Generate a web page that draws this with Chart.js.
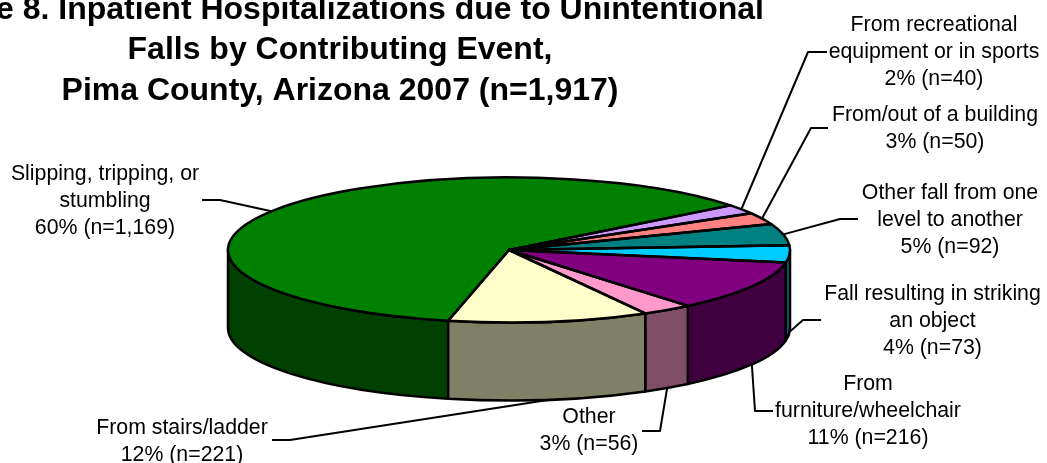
<!DOCTYPE html>
<html>
<head>
<meta charset="utf-8">
<title>Inpatient Hospitalizations due to Unintentional Falls</title>
<script src="https://cdn.jsdelivr.net/npm/chart.js@4"></script>
<style>
    html, body { margin: 0; padding: 0; background: #fff; overflow: hidden; }
    canvas { display: block; }
</style>
</head>
<body>
<canvas id="fallsPie" width="1047" height="463"></canvas>
<script>
// data
const categories = [
    ['Slipping, tripping, or', 'stumbling'],
    ['From recreational', 'equipment or in sports'],
    ['From/out of a building'],
    ['Other fall from one', 'level to another'],
    ['Fall resulting in striking', 'an object'],
    ['From', 'furniture/wheelchair'],
    ['Other'],
    ['From stairs/ladder']
];
const counts = [1169, 40, 50, 92, 73, 216, 56, 221];
const percents = [60, 2, 3, 5, 4, 11, 3, 12];
const sliceColors = ['#008000', '#CC99FF', '#FF8080', '#008080', '#00CCFF', '#800080', '#FF99CC', '#FFFFCC'];
const titleLines = [
    'Figure 8. Inpatient Hospitalizations due to Unintentional',
    'Falls by Contributing Event,',
    'Pima County, Arizona 2007 (n=1,917)'
];

// pie look
const pieRadius = 281;
const squash = 0.258;   // height of the ellipse / width
const wallDepth = 78;

// where each label sits: text centre, first line y, elbow and end of the leader
const labelSpots = [
    { x: 105, y: 174, elbow: [220, 200], end: [202, 200] },
    { x: 934, y: 25, elbow: [808, 52], end: [827, 52] },
    { x: 935, y: 115, elbow: [811, 128], end: [828, 128] },
    { x: 950, y: 193, elbow: [840, 219], end: [858, 219] },
    { x: 932.5, y: 294, elbow: [803, 320], end: [821, 320] },
    { x: 868, y: 384, elbow: [755, 411], end: [773, 411] },
    { x: 589, y: 417, elbow: [660, 431], end: [642, 431] },
    { x: 182, y: 428, elbow: [290, 440], end: [272, 440] }
];

function halfColor(hex) {
    const n = parseInt(hex.slice(1), 16);
    return 'rgb(' + (n >> 16) / 2 + ',' + ((n >> 8) & 255) / 2 + ',' + (n & 255) / 2 + ')';
}

// part of a slice that lies on the front half of the ellipse
function frontPart(start, end) {
    for (let k = 0; k < 2; k++) {
        const a = Math.max(start, k * 2 * Math.PI);
        const b = Math.min(end, k * 2 * Math.PI + Math.PI);
        if (b > a) return [a, b];
    }
    return null;
}

const pie3d = {
    id: 'pie3d',
    beforeDatasetsDraw(chart) {
        const ctx = chart.ctx;
        const arcs = chart.getDatasetMeta(0).data;
        const first = arcs[0];

        // side wall first, pie top goes over it
        ctx.save();
        ctx.lineWidth = 2.5;
        ctx.strokeStyle = '#000';
        ctx.lineJoin = 'round';
        arcs.forEach((arc, i) => {
            const part = frontPart(arc.startAngle, arc.endAngle);
            if (!part) return;
            const rx = arc.outerRadius, ry = rx * squash;
            ctx.beginPath();
            ctx.ellipse(arc.x, arc.y, rx, ry, 0, part[0], part[1]);
            ctx.ellipse(arc.x, arc.y + wallDepth, rx, ry, 0, part[1], part[0], true);
            ctx.closePath();
            ctx.fillStyle = halfColor(sliceColors[i]);
            ctx.fill();
            ctx.stroke();
        });
        ctx.restore();

        // squash the slices the library draws
        ctx.save();
        ctx.translate(first.x, first.y);
        ctx.scale(1, squash);
        ctx.translate(-first.x, -first.y);
    },
    afterDatasetsDraw(chart) {
        const ctx = chart.ctx;
        ctx.restore();
        const arcs = chart.getDatasetMeta(0).data;

        // outlines out here so the line width stays even
        ctx.save();
        ctx.lineWidth = 2.5;
        ctx.strokeStyle = '#000';
        ctx.lineJoin = 'round';
        arcs.forEach(arc => {
            ctx.beginPath();
            ctx.moveTo(arc.x, arc.y);
            ctx.ellipse(arc.x, arc.y, arc.outerRadius, arc.outerRadius * squash, 0, arc.startAngle, arc.endAngle);
            ctx.closePath();
            ctx.stroke();
        });

        // leaders
        ctx.lineWidth = 2;
        arcs.forEach((arc, i) => {
            const spot = labelSpots[i];
            const mid = (arc.startAngle + arc.endAngle) / 2;
            const onFront = Math.sin(mid) > 0;
            ctx.beginPath();
            ctx.moveTo(arc.x + arc.outerRadius * Math.cos(mid),
                arc.y + arc.outerRadius * squash * Math.sin(mid) + (onFront ? wallDepth : 0));
            ctx.lineTo(spot.elbow[0], spot.elbow[1]);
            ctx.lineTo(spot.end[0], spot.end[1]);
            ctx.stroke();
        });

        // labels
        ctx.fillStyle = '#000';
        ctx.textAlign = 'center';
        ctx.textBaseline = 'middle';
        ctx.font = '21.3px "Liberation Sans"';
        categories.forEach((lines, i) => {
            const spot = labelSpots[i];
            const text = lines.concat(percents[i] + '% (n=' + counts[i].toLocaleString('en-US') + ')');
            text.forEach((line, j) => ctx.fillText(line, spot.x, spot.y + j * 27.3));
        });

        // title, first line runs off the left edge like in the original
        ctx.textBaseline = 'alphabetic';
        ctx.font = 'bold 32px "Liberation Sans"';
        titleLines.forEach((line, j) => ctx.fillText(line, 340, 19.2 + j * 40.2));
        ctx.restore();
    }
};

const ctxPie = document.getElementById('fallsPie').getContext('2d');
const fallsPie = new Chart(ctxPie, {
    type: 'pie',
    data: {
        labels: categories.map(lines => lines.join(' ')),
        datasets: [{
            data: counts,
            backgroundColor: sliceColors,
            borderWidth: 0,
            clip: false
        }]
    },
    options: {
        responsive: false,
        animation: false,
        rotation: 192.5,
        radius: pieRadius,
        layout: { padding: { left: 0, right: 29, top: 37, bottom: 0 } },
        plugins: {
            legend: { display: false },
            title: { display: false },
            tooltip: { enabled: false }
        }
    },
    plugins: [pie3d]
});
</script>
</body>
</html>
